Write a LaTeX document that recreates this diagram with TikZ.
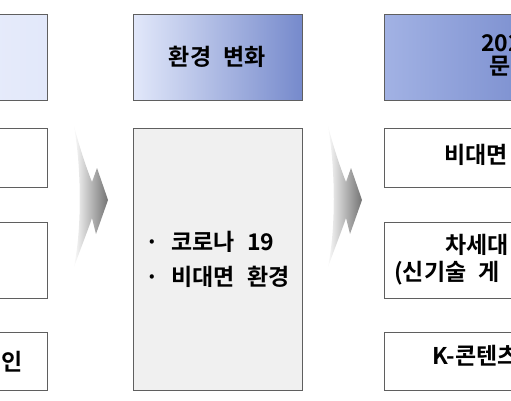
\documentclass[tikz,border=0pt]{standalone}
\usepackage{fontspec}
\newfontfamily\krfont{Noto Sans CJK KR Bold}[WordSpace=2.4]
\usetikzlibrary{positioning}
\definecolor{boxline}{RGB}{95,95,95}
\definecolor{headpale}{RGB}{226,232,250}
\definecolor{headmid}{RGB}{162,178,228}
\definecolor{headdeep}{RGB}{118,138,204}
\definecolor{panelgray}{RGB}{240,240,240}
\tikzset{
  headbox/.style={draw=boxline, minimum width=169pt, minimum height=86pt, inner sep=0pt},
  itembox/.style={draw=boxline, fill=white, minimum width=169pt, inner sep=0pt},
  krtext/.style={font=\krfont\fontsize{23}{28}\selectfont, inner sep=0pt, align=left},
  bendarrow/.style={left color=white, right color=black!55, draw=none}
}
\begin{document}
\begin{tikzpicture}[x=1pt,y=-1pt]
\useasboundingbox (0,0) rectangle (511,400);
\clip (0,0) rectangle (511,400);

% headers
\node[headbox, left color=headpale!60!white, right color=headpale] (pastHead) at (-37.5,57) {};
\node[headbox, left color=headpale, right color=headdeep, krtext] (envHead) at (217.5,57) {환경 변화};
\node[headbox, left color=headmid, right color=headdeep] (goalHead) at (468.5,57) {};

% left column
\node[itembox, minimum height=59pt] (pastA) at (-37.5,157.5) {};
\node[itembox, minimum height=76pt] (pastB) at (-37.5,260) {};
\node[itembox, minimum height=58pt] (pastC) at (-37.5,361) {};

% middle column
\node[itembox, fill=panelgray, minimum height=262pt, krtext,
  font=\krfont\fontsize{23}{35}\selectfont] (envBody) at (217.5,259) {· 코로나 19\\· 비대면 환경};

% right column
\node[itembox, minimum height=59pt] (goalA) at (468.5,157.5) {};
\node[itembox, minimum height=76pt] (goalB) at (468.5,260) {};
\node[itembox, minimum height=58pt] (goalC) at (468.5,361) {};

% texts cut by the frame
\node[krtext, anchor=center] (pastCtext) at (12,362) {인};
\node[krtext, anchor=west] (goalTop) at (481,43) {202};
\node[krtext, anchor=west] (goalSub) at (489,66) {문};
\node[krtext, anchor=west] (goalAtext) at (444,155) {비대면};
\node[krtext, anchor=west] (goalBtop) at (445,245) {차세대};
\node[krtext, anchor=west] (goalBsub) at (394,273) {(신기술 게};
\node[krtext, anchor=west] (goalCtext) at (432,356) {K-콘텐츠};

% bent arrows
\foreach \dx in {0,254}
  \path[bendarrow, shift={(\dx,0)}] (73,122) .. controls (80,150) and (88,172) .. (92,182)
    -- (97,168) -- (108,200) -- (96,234) -- (92,218)
    .. controls (88,230) and (80,250) .. (73,270)
    .. controls (82,235) and (82,165) .. (73,122) -- cycle;
\end{tikzpicture}
\end{document}
